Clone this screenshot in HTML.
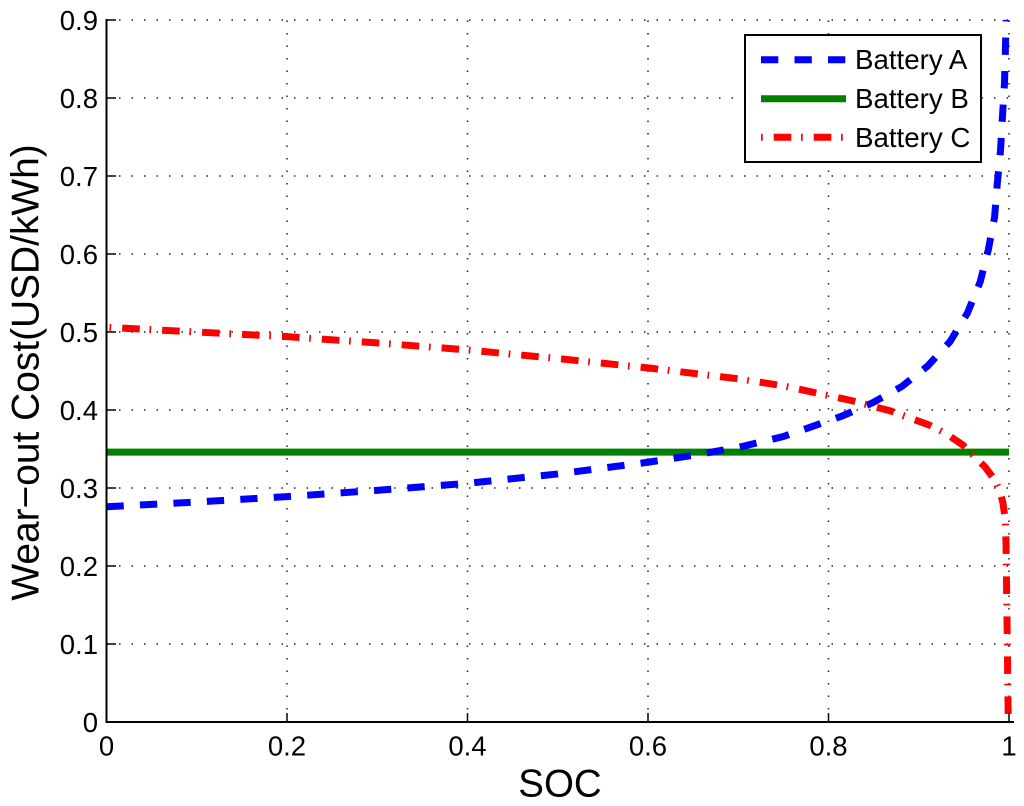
<!DOCTYPE html>
<html>
<head>
<meta charset="utf-8">
<title>Wear-out Cost vs SOC</title>
<style>
html,body{margin:0;padding:0;background:#fff;}
svg{display:block;}
text{font-family:"Liberation Sans",sans-serif;fill:#000;}
</style>
</head>
<body>
<svg id="chart" width="1024" height="806" viewBox="0 0 1024 806" xmlns="http://www.w3.org/2000/svg">
  <defs><clipPath id="plot-clip"><rect x="100" y="19" width="914" height="706"/></clipPath></defs>
  <rect x="0" y="0" width="1024" height="806" fill="#fff"/>
  <g id="grid"></g>
  <g id="series" clip-path="url(#plot-clip)"></g>
  <g id="axes"></g>
  <text x="560" y="796.5" font-size="38.5" text-anchor="middle">SOC</text>
  <text transform="translate(38.5,372.5) rotate(-90)" font-size="38.9" text-anchor="middle">Wear−out Cost(USD/kWh)</text>
  <g>
    <rect x="745" y="35" width="236" height="127" fill="#fff" stroke="#000" stroke-width="2"/>
    <line x1="761" x2="846" y1="59.7" y2="59.7" stroke="#0000ff" stroke-width="7" stroke-dasharray="17.3 16.2"/>
    <text x="855" y="69" font-size="27.7">Battery A</text>
    <line x1="761" x2="846" y1="98.7" y2="98.7" stroke="#008000" stroke-width="7"/>
    <text x="855" y="108" font-size="27.7">Battery B</text>
    <line x1="761" x2="846" y1="137.3" y2="137.3" stroke="#ff0000" stroke-width="7" stroke-dasharray="1.7 11 17.6 9.7"/>
    <text x="855" y="147" font-size="27.7">Battery C</text>
  </g>
</svg>
<script>
const xTicks = [0, 0.2, 0.4, 0.6, 0.8, 1];
const xTickLabels = ['0', '0.2', '0.4', '0.6', '0.8', '1'];
const yTicks = [0, 0.1, 0.2, 0.3, 0.4, 0.5, 0.6, 0.7, 0.8, 0.9];
const yTickLabels = ['0', '0.1', '0.2', '0.3', '0.4', '0.5', '0.6', '0.7', '0.8', '0.9'];

const batteryASoc = [0, 0.05, 0.1, 0.2, 0.3, 0.4, 0.5, 0.6, 0.65, 0.7, 0.75, 0.8146, 0.849, 0.8811, 0.9099, 0.9346, 0.9538, 0.968, 0.977, 0.984, 0.987, 0.9906, 0.9927, 0.995, 0.996, 0.9968];
const batteryACost = [0.276, 0.279, 0.282, 0.289, 0.297, 0.306, 0.318, 0.333, 0.342, 0.352, 0.366, 0.392, 0.4094, 0.43, 0.4564, 0.4876, 0.524, 0.564, 0.605, 0.647, 0.69, 0.733, 0.775, 0.819, 0.861, 0.9];

const batteryBSoc = [0, 1];
const batteryBCost = [0.346, 0.346];

const batteryCSoc = [0, 0.05, 0.1, 0.2, 0.3, 0.4, 0.5, 0.6, 0.7, 0.75, 0.8257, 0.869, 0.9114, 0.93, 0.949, 0.9734, 0.9845, 0.99, 0.9933, 0.9959, 0.9967, 0.9975, 0.9981, 0.9986, 0.9992];
const batteryCCost = [0.506, 0.503, 0.5, 0.494, 0.486, 0.477, 0.466, 0.454, 0.44, 0.431, 0.412, 0.3987, 0.3808, 0.37, 0.355, 0.327, 0.31, 0.295, 0.281, 0.259, 0.229, 0.156, 0.105, 0.053, 0];

const NS = 'http://www.w3.org/2000/svg';
const xScale = v => 106.5 + v * 902.5;
const yScale = v => 722 - v * 780;

function make(tag, attrs, parent) {
  const el = document.createElementNS(NS, tag);
  for (const k in attrs) el.setAttribute(k, attrs[k]);
  parent.appendChild(el);
  return el;
}

const gridG = document.getElementById('grid');
const axesG = document.getElementById('axes');
const seriesG = document.getElementById('series');

xTicks.forEach((v, i) => {
  if (i > 0) {
    const g = make('line', {x1: xScale(v), x2: xScale(v), y1: 722, y2: 20, stroke: '#222', 'stroke-width': 1.5, 'stroke-dasharray': '1.5 11'}, gridG);
    
    
    const t = make('line', {x1: xScale(v), x2: xScale(v), y1: 722, y2: 713, stroke: '#000', 'stroke-width': 1.5}, axesG);
    
    
  }
  const label = make('text', {x: xScale(v), y: 755.5, 'font-size': 27.5, 'text-anchor': 'middle'}, axesG);
  label.textContent = xTickLabels[i];
  
  
});

yTicks.forEach((v, i) => {
  if (i > 0) {
    const g = make('line', {x1: 106.5, x2: 1009, y1: yScale(v), y2: yScale(v), stroke: '#222', 'stroke-width': 1.5, 'stroke-dasharray': '1.5 11'}, gridG);
    
    
    const t = make('line', {x1: 106.5, x2: 116, y1: yScale(v), y2: yScale(v), stroke: '#000', 'stroke-width': 1.5}, axesG);
    
    
  }
  const label = make('text', {x: 98, y: yScale(v) + 10, 'font-size': 27.5, 'text-anchor': 'end'}, axesG);
  label.textContent = yTickLabels[i];
  
  
});

const xAxisLine = make('line', {x1: 105.5, x2: 1014, y1: 722, y2: 722, stroke: '#000', 'stroke-width': 2}, axesG);


const yAxisLine = make('line', {x1: 106.5, x2: 106.5, y1: 19, y2: 723, stroke: '#000', 'stroke-width': 2}, axesG);



function pts(xs, ys) {
  return xs.map((x, i) => xScale(x).toFixed(2) + ',' + yScale(ys[i]).toFixed(2)).join(' ');
}

const lineB = make('polyline', {points: pts(batteryBSoc, batteryBCost), fill: 'none', stroke: '#008000', 'stroke-width': 7}, seriesG);



const lineA = make('polyline', {points: pts(batteryASoc, batteryACost), fill: 'none', stroke: '#0000ff', 'stroke-width': 7, 'stroke-dasharray': '17.3 16.2'}, seriesG);



const lineC = make('polyline', {points: pts(batteryCSoc, batteryCCost), fill: 'none', stroke: '#ff0000', 'stroke-width': 7, 'stroke-dasharray': '1.7 11 17.6 9.7', 'stroke-dashoffset': -3}, seriesG);


</script>
</body>
</html>
